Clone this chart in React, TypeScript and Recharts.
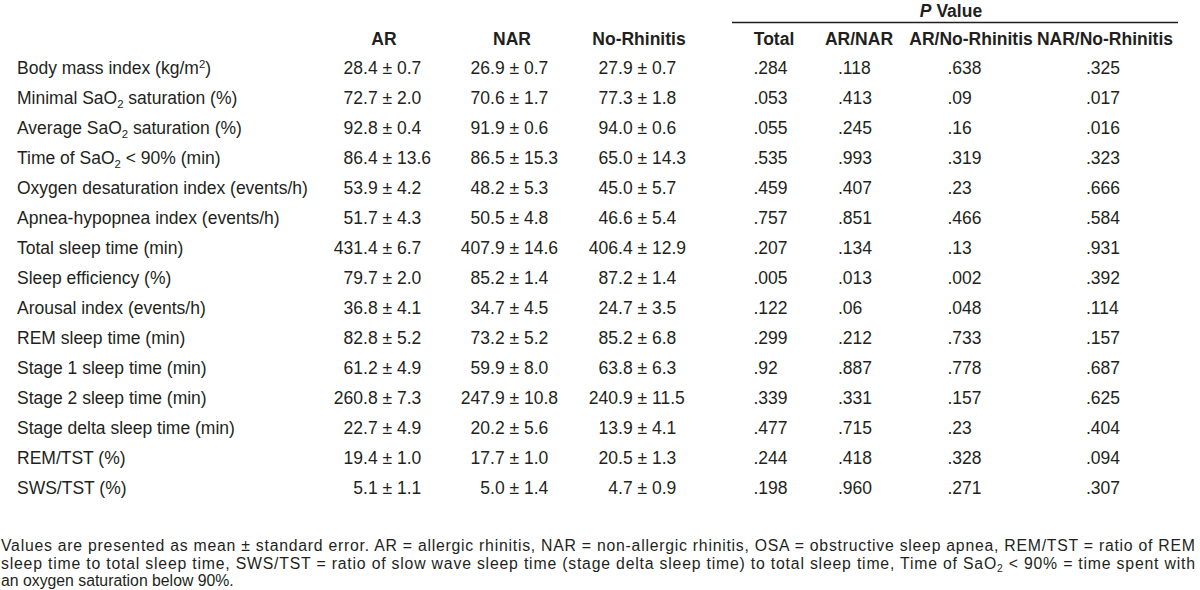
import { ScatterChart, Scatter, XAxis, YAxis, Customized } from 'recharts';

// row labels: "_2" = subscript, "^2" = superscript
const rowLabels = [
  'Body mass index (kg/m^2)',
  'Minimal SaO_2 saturation (%)',
  'Average SaO_2 saturation (%)',
  'Time of SaO_2 < 90% (min)',
  'Oxygen desaturation index (events/h)',
  'Apnea-hypopnea index (events/h)',
  'Total sleep time (min)',
  'Sleep efficiency (%)',
  'Arousal index (events/h)',
  'REM sleep time (min)',
  'Stage 1 sleep time (min)',
  'Stage 2 sleep time (min)',
  'Stage delta sleep time (min)',
  'REM/TST (%)',
  'SWS/TST (%)',
];

const arMean = [28.4, 72.7, 92.8, 86.4, 53.9, 51.7, 431.4, 79.7, 36.8, 82.8, 61.2, 260.8, 22.7, 19.4, 5.1];
const arSe = [0.7, 2.0, 0.4, 13.6, 4.2, 4.3, 6.7, 2.0, 4.1, 5.2, 4.9, 7.3, 4.9, 1.0, 1.1];
const narMean = [26.9, 70.6, 91.9, 86.5, 48.2, 50.5, 407.9, 85.2, 34.7, 73.2, 59.9, 247.9, 20.2, 17.7, 5.0];
const narSe = [0.7, 1.7, 0.6, 15.3, 5.3, 4.8, 14.6, 1.4, 4.5, 5.2, 8.0, 10.8, 5.6, 1.0, 1.4];
const noMean = [27.9, 77.3, 94.0, 65.0, 45.0, 46.6, 406.4, 87.2, 24.7, 85.2, 63.8, 240.9, 13.9, 20.5, 4.7];
const noSe = [0.7, 1.8, 0.6, 14.3, 5.7, 5.4, 12.9, 1.4, 3.5, 6.8, 6.3, 11.5, 4.1, 1.3, 0.9];

const pTotal = ['.284', '.053', '.055', '.535', '.459', '.757', '.207', '.005', '.122', '.299', '.92', '.339', '.477', '.244', '.198'];
const pArNar = ['.118', '.413', '.245', '.993', '.407', '.851', '.134', '.013', '.06', '.212', '.887', '.331', '.715', '.418', '.960'];
const pArNo = ['.638', '.09', '.16', '.319', '.23', '.466', '.13', '.002', '.048', '.733', '.778', '.157', '.23', '.328', '.271'];
const pNarNo = ['.325', '.017', '.016', '.323', '.666', '.584', '.931', '.392', '.114', '.157', '.687', '.625', '.404', '.094', '.307'];

const headers = ['AR', 'NAR', 'No-Rhinitis', 'Total', 'AR/NAR', 'AR/No-Rhinitis', 'NAR/No-Rhinitis'];
const groupTitle = 'Value';

const footnote = [
  'Values are presented as mean ± standard error. AR = allergic rhinitis, NAR = non-allergic rhinitis, OSA = obstructive sleep apnea, REM/TST = ratio of REM',
  'sleep time to total sleep time, SWS/TST = ratio of slow wave sleep time (stage delta sleep time) to total sleep time, Time of SaO_2 < 90% = time spent with',
  'an oxygen saturation below 90%.',
];

// layout
const FONT = "'Liberation Sans', Arial, Helvetica, sans-serif";
const INK = '#231f20';
const FS = 17.5;
const FOOT_FS = 15.8;
const LABEL_X = 17;
const HEADER_X = [384, 512, 639, 774, 859, 971, 1105];
const PM_X = { ar: 382.5, nar: 509.5, no: 637.5 };
const P_X = { total: 753.5, arNar: 838, arNo: 947.5, narNo: 1086 };

const Rich = ({ text, size }: { text: string; size: number }) => {
  const parts = text.split(/([_^]\d)/).filter((s) => s !== '');
  let shift = 0;
  return (
    <>
      {parts.map((p, i) => {
        if (p[0] === '_' || p[0] === '^') {
          const d = p[0] === '_' ? size * 0.22 : -size * 0.38;
          const back = shift;
          shift = d;
          return (
            <tspan key={i} dy={d - back} fontSize={size * 0.65}>
              {p.slice(1)}
            </tspan>
          );
        }
        const back = shift;
        shift = 0;
        return (
          <tspan key={i} dy={-back}>
            {p}
          </tspan>
        );
      })}
    </>
  );
};

const rows = rowLabels.map((label, i) => ({
  label,
  arMean: arMean[i], arSe: arSe[i],
  narMean: narMean[i], narSe: narSe[i],
  noMean: noMean[i], noSe: noSe[i],
  pTotal: pTotal[i], pArNar: pArNar[i], pArNo: pArNo[i], pNarNo: pNarNo[i],
}));

const valueSeries = (x: number, m: 'arMean' | 'narMean' | 'noMean', s: 'arSe' | 'narSe' | 'noSe') =>
  rows.map((r) => ({ label: r.label, x, mean: r[m], se: r[s] }));
const pSeries = (x: number, k: 'pTotal' | 'pArNar' | 'pArNo' | 'pNarNo') =>
  rows.map((r) => ({ label: r.label, x, p: r[k] }));

const DY = FS * 0.37;

const ValueCell = (props: any) => {
  const { cx, cy, payload } = props;
  return (
    <g fontFamily={FONT} fontSize={FS} fill={INK}>
      <text x={cx - FS * 0.278} y={cy + DY} textAnchor="end">{payload.mean.toFixed(1)}</text>
      <text x={cx} y={cy + DY} textAnchor="start">{`± ${payload.se.toFixed(1)}`}</text>
    </g>
  );
};

const PCell = (props: any) => {
  const { cx, cy, payload } = props;
  return (
    <text x={cx} y={cy + DY} textAnchor="start" fontFamily={FONT} fontSize={FS} fill={INK}>
      {payload.p}
    </text>
  );
};

const RowTick = (props: any) => {
  const { y, payload } = props;
  return (
    <text x={LABEL_X} y={y + DY} textAnchor="start" fontFamily={FONT} fontSize={FS} fill={INK}>
      <Rich text={payload.value} size={FS} />
    </text>
  );
};

const HeadTick = (props: any) => {
  const { x, payload } = props;
  const i = HEADER_X.indexOf(payload.value);
  return (
    <text x={x} y={45} textAnchor="middle" fontFamily={FONT} fontSize={FS} fontWeight="bold" fill={INK}>
      {headers[i]}
    </text>
  );
};

const Extras = () => (
  <g fontFamily={FONT} fill={INK}>
    <text x={951} y={16.5} textAnchor="middle" fontSize={FS} fontWeight="bold">
      <tspan fontStyle="italic">P</tspan> {groupTitle}
    </text>
    <line x1={732} x2={1178} y1={22.5} y2={22.5} stroke={INK} strokeWidth={1.5} />
    {footnote.map((t, i) => (
      <text
        key={i}
        x={1}
        y={551 + i * 17.5}
        fontSize={FOOT_FS}
        {...(i < footnote.length - 1 ? { textLength: 1194, lengthAdjust: 'spacing' } : {})}
      >
        <Rich text={t} size={FOOT_FS} />
      </text>
    ))}
  </g>
);

export default function App() {
  return (
    <div style={{ position: 'absolute', left: 0, top: 0, width: 1200, height: 590, background: '#fff' }}>
      <ScatterChart width={1200} height={590} margin={{ top: 23, right: 0, bottom: 87, left: -1 }}>
        <XAxis
          type="number"
          dataKey="x"
          domain={[0, 1200]}
          orientation="top"
          height={30}
          ticks={HEADER_X}
          tick={<HeadTick />}
          axisLine={false}
          tickLine={false}
          allowDataOverflow
        />
        <YAxis
          type="category"
          dataKey="label"
          width={1}
          reversed
          tick={<RowTick />}
          axisLine={false}
          tickLine={false}
          interval={0}
        />
        <Scatter data={valueSeries(PM_X.ar, 'arMean', 'arSe')} shape={<ValueCell />} isAnimationActive={false} />
        <Scatter data={valueSeries(PM_X.nar, 'narMean', 'narSe')} shape={<ValueCell />} isAnimationActive={false} />
        <Scatter data={valueSeries(PM_X.no, 'noMean', 'noSe')} shape={<ValueCell />} isAnimationActive={false} />
        <Scatter data={pSeries(P_X.total, 'pTotal')} shape={<PCell />} isAnimationActive={false} />
        <Scatter data={pSeries(P_X.arNar, 'pArNar')} shape={<PCell />} isAnimationActive={false} />
        <Scatter data={pSeries(P_X.arNo, 'pArNo')} shape={<PCell />} isAnimationActive={false} />
        <Scatter data={pSeries(P_X.narNo, 'pNarNo')} shape={<PCell />} isAnimationActive={false} />
        <Customized component={<Extras />} />
      </ScatterChart>
    </div>
  );
}
